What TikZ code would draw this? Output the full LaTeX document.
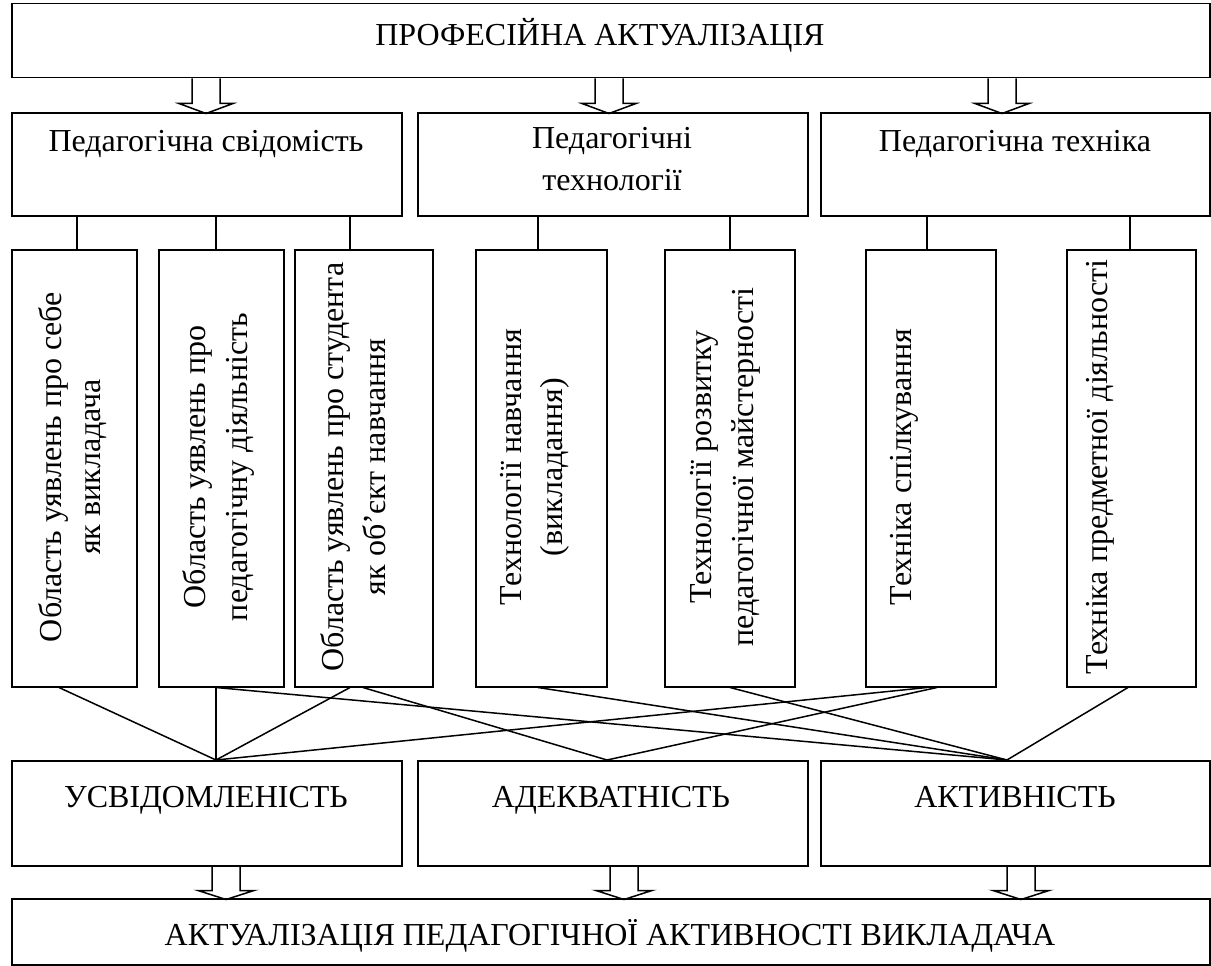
\documentclass[tikz,border=0pt]{standalone}
\usepackage{fontspec}
\setmainfont{Liberation Serif}
\begin{document}
\begin{tikzpicture}[x=1pt,y=-1pt,
  box/.style={draw, line width=1.5pt, inner sep=0pt, anchor=north west},
  lbl/.style={font=\fontsize{32}{41}\selectfont, inner sep=0pt, anchor=base},
  vlbl/.style={lbl, rotate=90},
  conn/.style={line width=1.5pt},
  barrow/.style={line width=1.5pt, line join=miter}]
\useasboundingbox (0,0) rectangle (1211,966);

% boxes
\node[box, minimum width=1198, minimum height=74] (top) at (11,3) {};
\node[box, minimum width=390, minimum height=103] (a1) at (11,112) {};
\node[box, minimum width=390, minimum height=103] (a2) at (417,112) {};
\node[box, minimum width=389, minimum height=103] (a3) at (820,112) {};
\node[box, minimum width=125, minimum height=437] (b1) at (11,249) {};
\node[box, minimum width=125, minimum height=437] (b2) at (158,249) {};
\node[box, minimum width=138, minimum height=437] (b3) at (294,249) {};
\node[box, minimum width=131, minimum height=437] (b4) at (475,249) {};
\node[box, minimum width=130, minimum height=437] (b5) at (664,249) {};
\node[box, minimum width=130, minimum height=437] (b6) at (865,249) {};
\node[box, minimum width=129, minimum height=437] (b7) at (1066,249) {};
\node[box, minimum width=390, minimum height=105] (c1) at (11,760) {};
\node[box, minimum width=390, minimum height=105] (c2) at (417,760) {};
\node[box, minimum width=389, minimum height=105] (c3) at (820,760) {};
\node[box, minimum width=1198, minimum height=66] (d) at (11,898) {};

% labels
\node[lbl] (topl) at (600,46) {ПРОФЕСІЙНА АКТУАЛІЗАЦІЯ};
\node[lbl] (a1l) at (206,151) {Педагогічна свідомість};
\node[lbl] (a2l1) at (612,148) {Педагогічні};
\node[lbl] (a2l2) at (612,190) {технології};
\node[lbl] (a3l) at (1015,151) {Педагогічна техніка};

\node[vlbl] (b1l1) at (61,467) {Область уявлень про себе};
\node[vlbl] (b1l2) at (100,467) {як викладача};
\node[vlbl] (b2l1) at (205,467) {Область уявлень про};
\node[vlbl] (b2l2) at (247,467) {педагогічну діяльність};
\node[vlbl] (b3l1) at (343,467) {Область уявлень про студента};
\node[vlbl] (b3l2) at (385,467) {як об’єкт навчання};
\node[vlbl] (b4l1) at (521,467) {Технології навчання};
\node[vlbl] (b4l2) at (562,467) {(викладання)};
\node[vlbl] (b5l1) at (711,467) {Технології розвитку};
\node[vlbl] (b5l2) at (753,467) {педагогічної майстерності};
\node[vlbl] (b6l) at (911,467) {Техніка спілкування};
\node[vlbl] (b7l) at (1107,467) {Техніка предметної діяльності};

\node[lbl] (c1l) at (206,807) {УСВІДОМЛЕНІСТЬ};
\node[lbl] (c2l) at (611,807) {АДЕКВАТНІСТЬ};
\node[lbl] (c3l) at (1015,807) {АКТИВНІСТЬ};
\node[lbl] (dl) at (610,945) {АКТУАЛІЗАЦІЯ ПЕДАГОГІЧНОЇ АКТИВНОСТІ ВИКЛАДАЧА};

% top block arrows
\coordinate (ta1) at ([xshift=195pt]top.south west);
\coordinate (ta2) at ([xshift=598pt]top.south west);
\coordinate (ta3) at ([xshift=991pt]top.south west);
\foreach \p in {ta1,ta2,ta3}
  \draw[barrow] (\p) ++(-14,0) -- ++(0,25) -- ++(-13,0) -- ++(27,10) -- ++(27,-10) -- ++(-13,0) -- ++(0,-25);

% bottom block arrows
\coordinate (ba1) at ([xshift=215pt]c1.south west);
\coordinate (ba2) at ([xshift=207pt]c2.south west);
\coordinate (ba3) at ([xshift=201pt]c3.south west);
\foreach \p in {ba1,ba2,ba3}
  \draw[barrow] (\p) ++(-14,0) -- ++(0,24) -- ++(-14,0) -- ++(28,9) -- ++(28,-9) -- ++(-14,0) -- ++(0,-24);

% row 2 -> row 3
\draw[conn] ([xshift=66pt]a1.south west) -- ([xshift=66pt]b1.north west);
\draw[conn] ([xshift=205pt]a1.south west) -- ([xshift=58pt]b2.north west);
\draw[conn] ([xshift=339pt]a1.south west) -- ([xshift=56pt]b3.north west);
\draw[conn] ([xshift=121pt]a2.south west) -- ([xshift=63pt]b4.north west);
\draw[conn] ([xshift=313pt]a2.south west) -- ([xshift=66pt]b5.north west);
\draw[conn] ([xshift=107pt]a3.south west) -- ([xshift=62pt]b6.north west);
\draw[conn] ([xshift=310pt]a3.south west) -- ([xshift=64pt]b7.north west);

% row 3 -> row 4
\coordinate (c1p) at ([xshift=205pt]c1.north west);
\coordinate (c2p) at ([xshift=190pt]c2.north west);
\coordinate (c3p) at ([xshift=187pt]c3.north west);
\draw[conn] ([xshift=48pt]b1.south west) -- (c1p);
\draw[conn] ([xshift=58pt]b2.south west) -- (c1p);
\draw[conn] ([xshift=56pt]b3.south west) -- (c1p);
\draw[conn] ([xshift=62pt]b6.south west) -- (c1p);
\draw[conn] ([xshift=58pt]b2.south west) -- (c3p);
\draw[conn] ([xshift=69pt]b3.south west) -- (c2p);
\draw[conn] ([xshift=63pt]b4.south west) -- (c3p);
\draw[conn] ([xshift=66pt]b5.south west) -- (c3p);
\draw[conn] ([xshift=72pt]b6.south west) -- (c2p);
\draw[conn] ([xshift=62pt]b7.south west) -- (c3p);
\end{tikzpicture}
\end{document}
